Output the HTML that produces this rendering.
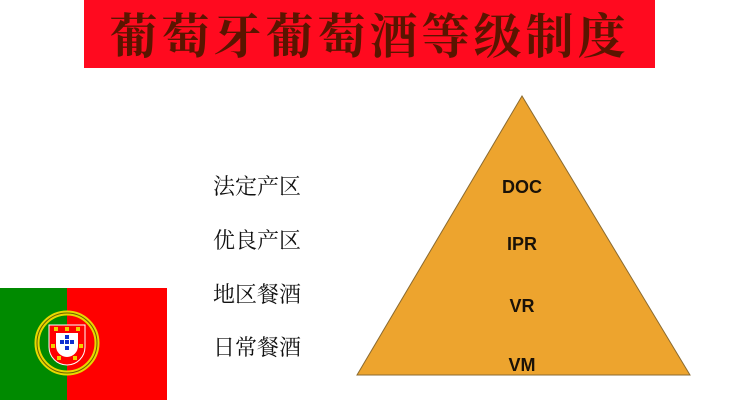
<!DOCTYPE html>
<html><head><meta charset="utf-8"><style>
body{margin:0;width:748px;height:400px;background:#fff;position:relative;overflow:hidden}
.banner{position:absolute;left:84px;top:0;width:571px;height:68px;background:#ff0a1f}
.title{position:absolute;left:84px;top:10px;width:571px;text-align:center;font:bold 48px/56px "Liberation Serif","Noto Serif CJK SC",serif;color:#5a1500;letter-spacing:4px}
.lbl{position:absolute;left:213px;font:22px/26px "Liberation Serif","Noto Serif CJK SC",serif;color:#111}
.g{position:absolute;width:100px;text-align:center;left:472px;font:bold 18px/20px "Liberation Sans",sans-serif;color:#1a1208}
</style></head><body>
<div class="banner"></div>
<div class="title">葡萄牙葡萄酒等级制度</div>
<svg style="position:absolute;left:0;top:0" width="748" height="400">
<polygon points="522,96 357,375 690,375" fill="#eda42e" stroke="#8a6a30" stroke-width="1"/>
<rect x="0" y="288" width="67" height="112" fill="#008a00"/>
<rect x="67" y="288" width="100" height="112" fill="#ff0000"/>
<circle cx="67" cy="343" r="30" fill="none" stroke="#e8d800" stroke-width="5"/>
<circle cx="67" cy="343" r="30" fill="none" stroke="#6a6000" stroke-width="1"/>
<path d="M49,325 h36 v22 a18,18 0 0 1 -36,0z" fill="#ff0000" stroke="#fff" stroke-width="1"/>
<path d="M56,333 h22 v13 a11,11 0 0 1 -22,0z" fill="#fff"/>
<g fill="#1030d0"><rect x="65" y="335" width="4" height="4"/><rect x="60" y="340" width="4" height="4"/><rect x="65" y="340" width="4" height="4"/><rect x="70" y="340" width="4" height="4"/><rect x="65" y="346" width="4" height="4"/></g>
<g fill="#f0d000"><rect x="54" y="327" width="4" height="4"/><rect x="65" y="327" width="4" height="4"/><rect x="76" y="327" width="4" height="4"/><rect x="51" y="344" width="4" height="4"/><rect x="79" y="344" width="4" height="4"/><rect x="57" y="356" width="4" height="4"/><rect x="73" y="356" width="4" height="4"/></g>
</svg>
<div class="lbl" style="top:174px">法定产区</div>
<div class="lbl" style="top:228px">优良产区</div>
<div class="lbl" style="top:282px">地区餐酒</div>
<div class="lbl" style="top:335px">日常餐酒</div>
<div class="g" style="top:177px">DOC</div>
<div class="g" style="top:234px">IPR</div>
<div class="g" style="top:296px">VR</div>
<div class="g" style="top:355px">VM</div>
</body></html>
